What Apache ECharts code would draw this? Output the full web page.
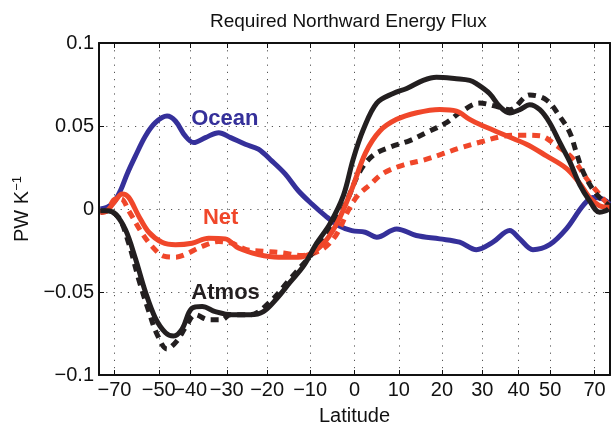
<!DOCTYPE html>
<html>
<head>
<meta charset="utf-8">
<script src="https://cdn.jsdelivr.net/npm/echarts@6/dist/echarts.min.js"></script>
<style>
  html, body { margin: 0; padding: 0; background: #fff; }
  #chart { width: 611px; height: 431px; }
</style>
</head>
<body>
<div id="chart"></div>
<script>
// ---- Data (latitude in degrees, flux in PW K^-1) ----
const tickLats = [-70, -50, -40, -30, -20, -10, 0, 10, 20, 30, 40, 50, 70];
const yTicks = [-0.1, -0.05, 0, 0.05, 0.1];

const oceanLat = [-84, -75.5, -70.4, -66.4, -62.9, -59, -54.9, -51.2, -47.2, -44.5, -41.5, -39, -35.7, -32.1, -29, -25.3, -22.1, -18.9, -15.7, -12.7, -9.6, -6.6, -3.6, -0.6, 2.4, 5, 9.5, 14, 19.5, 24.3, 28.5, 32.8, 37.4, 40.3, 44.3, 49.8, 56, 63.4, 68.9, 76.4, 86];
const oceanVal = [0, 0.001, 0.004, 0.011, 0.021, 0.032, 0.044, 0.052, 0.056, 0.053, 0.044, 0.040, 0.043, 0.046, 0.043, 0.039, 0.036, 0.029, 0.021, 0.011, 0.003, -0.004, -0.010, -0.013, -0.014, -0.017, -0.012, -0.016, -0.018, -0.020, -0.0245, -0.020, -0.013, -0.018, -0.0245, -0.0215, -0.012, 0.002, 0.007, 0.006, 0.003];

const netLat = [-84, -75.5, -69.4, -65.4, -62.1, -57.7, -53.6, -48.9, -44.5, -39.5, -34.8, -30.4, -27, -22.1, -17.3, -12.7, -9.6, -6.6, -3.6, -0.6, 2.5, 5.7, 9.5, 14.1, 19.5, 23.5, 26.8, 29.3, 35.5, 42.3, 48.7, 56, 61.7, 66.9, 73.5, 86];
const netVal = [-0.002, -0.001, 0.005, 0.009, 0.007, -0.004, -0.014, -0.020, -0.0215, -0.0206, -0.0176, -0.018, -0.0235, -0.0274, -0.029, -0.029, -0.0265, -0.0196, -0.0068, 0.012, 0.034, 0.047, 0.054, 0.058, 0.060, 0.059, 0.054, 0.051, 0.045, 0.039, 0.032, 0.0245, 0.0157, 0.007, 0.002, 0.001];

const netDashLat = [-84, -75.5, -69.4, -66, -62.1, -56.2, -52.4, -48.3, -44.5, -41.5, -36.6, -32.1, -28.7, -25, -20.5, -16.1, -12, -7.4, -4.2, -1.4, 0.7, 3.5, 6.5, 11, 15.6, 20.3, 24.3, 29.3, 35.5, 40.3, 46.5, 52.2, 58.7, 65.1, 73.5, 86];
const netDashVal = [-0.002, -0.001, 0.006, 0.006, -0.001, -0.0147, -0.0225, -0.0284, -0.029, -0.0274, -0.0225, -0.0196, -0.0206, -0.0245, -0.0255, -0.0265, -0.028, -0.0245, -0.016, -0.001, 0.008, 0.0147, 0.0216, 0.0265, 0.0294, 0.0333, 0.0367, 0.0402, 0.0438, 0.0445, 0.0441, 0.0382, 0.0304, 0.0186, 0.0088, 0.002];

const atmosLat = [-84, -75.5, -69.4, -63.6, -59, -54.9, -51.2, -47.7, -45.1, -42.5, -39.5, -36.6, -33, -28.7, -24.1, -20.9, -17.7, -14.6, -11.5, -8.5, -5.5, -2.5, -0.3, 2, 5, 8.7, 11.8, 15.6, 18.7, 23.5, 26.8, 28.5, 31.9, 34.6, 37.4, 40.3, 43.3, 46.5, 49.8, 53.4, 57.4, 61.8, 66.9, 73.5, 80, 84];
const atmosVal = [-0.001, -0.001, -0.003, -0.0127, -0.030, -0.050, -0.0657, -0.0745, -0.0765, -0.0725, -0.0598, -0.0588, -0.0618, -0.0637, -0.0637, -0.0618, -0.0539, -0.0441, -0.0343, -0.0206, -0.0088, 0.008, 0.030, 0.048, 0.0638, 0.0696, 0.0726, 0.0775, 0.0794, 0.0785, 0.0775, 0.0755, 0.0696, 0.0618, 0.0579, 0.0598, 0.0628, 0.0598, 0.052, 0.0402, 0.0285, 0.0147, 0.005, -0.002, -0.001, 0.0];

const atmosDashLat = [-84, -75.5, -67.4, -62.1, -57.7, -53.6, -50.6, -47.2, -44, -41.5, -38.5, -34.8, -31.3, -29.1, -24.1, -19.3, -14.6, -10, -7, -4, -1.7, 1.2, 4.2, 8, 12.5, 16.4, 21.1, 24.3, 29.3, 33.7, 37.4, 43.3, 48.7, 53.4, 57.4, 60.2, 63.4, 68.9, 76.4, 86];
const atmosDashVal = [-0.002, -0.001, -0.005, -0.0206, -0.042, -0.0618, -0.0755, -0.0843, -0.0794, -0.0716, -0.0637, -0.0667, -0.0667, -0.0637, -0.0637, -0.0559, -0.0421, -0.0284, -0.0186, -0.0068, 0.005, 0.0226, 0.0324, 0.0373, 0.0412, 0.0461, 0.052, 0.0579, 0.0638, 0.0618, 0.0598, 0.0687, 0.0657, 0.0559, 0.0461, 0.0343, 0.0226, 0.0118, 0.005, 0.002];

const labelText = ['Ocean', 'Net', 'Atmos'];
const labelLat = [-30.5, -31.6, -30.3];
const labelVal = [0.0545, -0.0055, -0.0505];

// ---- Helpers ----
const rad = Math.PI / 180;
const sinLat = l => Math.sin(l * rad);
const pts = (lats, vals) => lats.map((l, i) => [sinLat(l), vals[i]]);
const minus = s => String(s).replace('-', '\u2212');

const BLUE = '#35309a', RED = '#f0472a', BLACK = '#231f20';
const FONT = 'Liberation Sans, Arial, Helvetica, sans-serif';

const tickVals = tickLats.map(sinLat);

const chart = echarts.init(document.getElementById('chart'), null, { renderer: 'canvas' });

const gridDots = { show: true, lineStyle: { color: '#555', width: 1, type: [1.2, 6] } };

const option = {
  backgroundColor: '#ffffff',
  animation: false,
  title: {
    text: 'Required Northward Energy Flux',
    left: 205, top: 7,
    textStyle: { fontFamily: FONT, fontSize: 19, fontWeight: 'normal', color: '#111' }
  },
  grid: { left: 99, right: 1, top: 43, bottom: 50 },
  xAxis: [{
    type: 'value', min: -1, max: 1, position: 'bottom',
    name: 'Latitude', nameLocation: 'middle', nameGap: 31,
    nameTextStyle: { fontFamily: FONT, fontSize: 20, color: '#111' },
    axisLine: { show: true, onZero: false, lineStyle: { color: '#111', width: 2 } },
    axisTick: { show: true, inside: true, length: 5, customValues: tickVals, lineStyle: { color: '#111', width: 1 } },
    axisLabel: {
      show: true, customValues: tickVals, margin: 5,
      fontFamily: FONT, fontSize: 20, color: '#111',
      formatter: v => minus(Math.round(Math.asin(Math.max(-1, Math.min(1, v))) / rad))
    },
    splitLine: gridDots
  }, {
    type: 'value', min: -1, max: 1, position: 'top',
    axisLine: { show: true, onZero: false, lineStyle: { color: '#111', width: 2 } },
    axisTick: { show: true, inside: true, length: 5, customValues: tickVals, lineStyle: { color: '#111', width: 1 } },
    axisLabel: { show: false },
    splitLine: { show: false }
  }],
  yAxis: [{
    type: 'value', min: -0.1, max: 0.1, interval: 0.05, position: 'left',
    name: 'PW K{sup|\u22121}', nameLocation: 'middle', nameGap: 64,
    nameTextStyle: {
      fontFamily: FONT, fontSize: 20, color: '#111',
      rich: { sup: { fontFamily: FONT, fontSize: 13, color: '#111', verticalAlign: 'top', padding: [0, 0, 10, 0] } }
    },
    axisLine: { show: true, onZero: false, lineStyle: { color: '#111', width: 2 } },
    axisTick: { show: true, inside: true, length: 5, lineStyle: { color: '#111', width: 1 } },
    axisLabel: {
      show: true, margin: 5, fontFamily: FONT, fontSize: 20, color: '#111',
      formatter: v => minus(+v.toFixed(2))
    },
    splitLine: gridDots
  }, {
    type: 'value', min: -0.1, max: 0.1, interval: 0.05, position: 'right',
    axisLine: { show: true, onZero: false, lineStyle: { color: '#111', width: 2 } },
    axisTick: { show: true, inside: true, length: 5, lineStyle: { color: '#111', width: 1 } },
    axisLabel: { show: false },
    splitLine: { show: false }
  }],
  series: [
    { name: 'Ocean', type: 'line', data: pts(oceanLat, oceanVal), showSymbol: false, smooth: 0.35,
      lineStyle: { color: BLUE, width: 5 }, z: 2 },
    { name: 'Net (dashed)', type: 'line', data: pts(netDashLat, netDashVal), showSymbol: false, smooth: 0.35,
      lineStyle: { color: RED, width: 5, type: [8, 6] }, z: 3 },
    { name: 'Atmos (dashed)', type: 'line', data: pts(atmosDashLat, atmosDashVal), showSymbol: false, smooth: 0.35,
      lineStyle: { color: BLACK, width: 5, type: [8, 6] }, z: 3 },
    { name: 'Net', type: 'line', data: pts(netLat, netVal), showSymbol: false, smooth: 0.35,
      lineStyle: { color: RED, width: 5 }, z: 4 },
    { name: 'Atmos', type: 'line', data: pts(atmosLat, atmosVal), showSymbol: false, smooth: 0.35,
      lineStyle: { color: BLACK, width: 5 }, z: 5 },
    { name: 'labels', type: 'scatter', symbolSize: 0, z: 6, silent: true,
      itemStyle: { opacity: 1 },
      data: labelText.map((t, i) => ({
        value: [sinLat(labelLat[i]), labelVal[i]], name: t,
        label: { color: [BLUE, RED, BLACK][i] }
      })),
      label: { show: true, position: 'inside', formatter: p => p.name, opacity: 1,
        textBorderWidth: 0, textBorderColor: 'transparent', textShadowBlur: 0,
        fontFamily: FONT, fontSize: 22, fontWeight: 'bold' }
    }
  ]
};
chart.setOption(option);
</script>
</body>
</html>
